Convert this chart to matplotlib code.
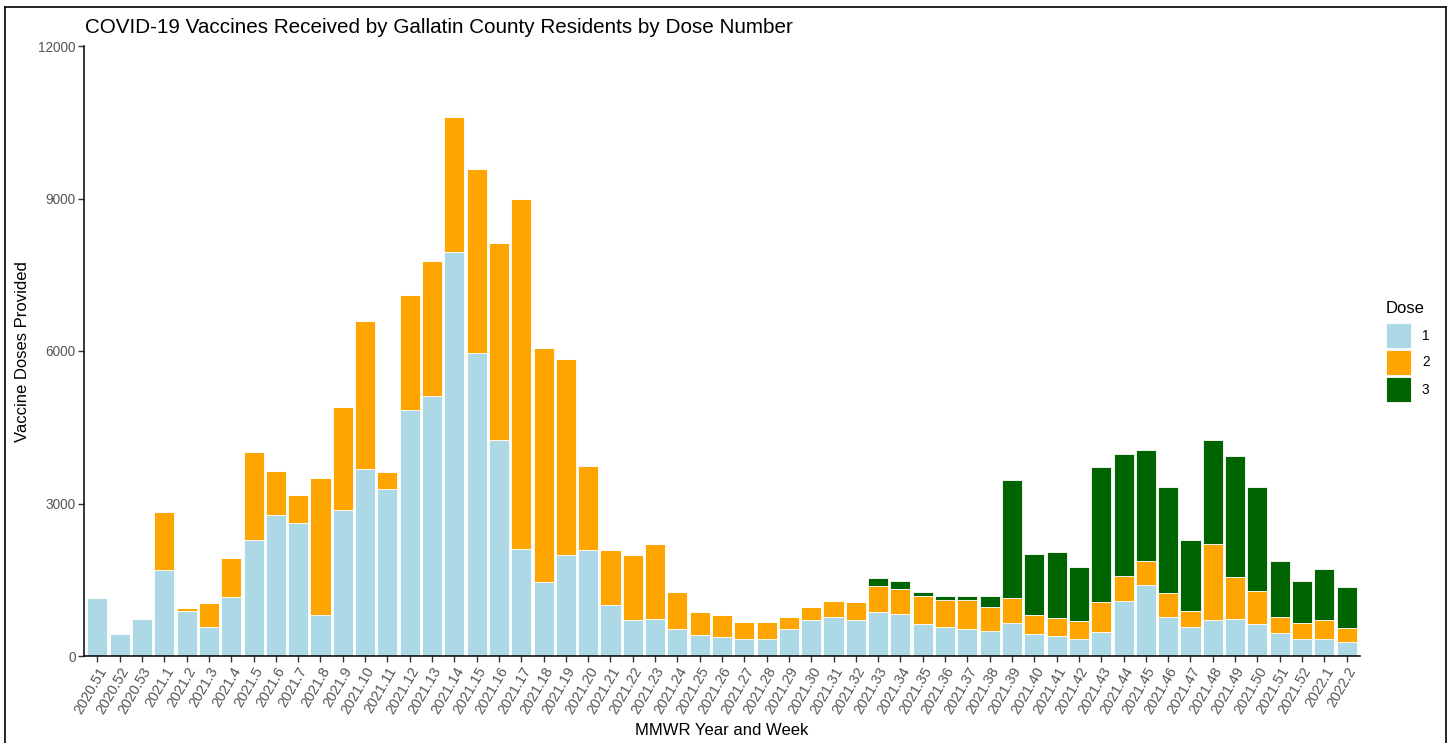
import numpy as np
import matplotlib.pyplot as plt
from matplotlib.patches import Rectangle
from matplotlib.lines import Line2D

plt.rcParams['font.family'] = ['Liberation Sans', 'DejaVu Sans']

# MMWR year.week labels
weeks = ['2020.51', '2020.52', '2020.53'] + \
        ['2021.%d' % i for i in range(1, 53)] + ['2022.1', '2022.2']

# doses per week
dose1 = [1140, 435, 730, 1690, 890, 570, 1165, 2285, 2765, 2625,
         805, 2875, 3675, 3285, 4840, 5115, 7940, 5955, 4245, 2105,
         1460, 1990, 2080, 1005, 710, 730, 525, 415, 370, 340,
         340, 525, 710, 775, 710, 870, 825, 620, 575, 525,
         500, 640, 435, 390, 325, 480, 1075, 1395, 775, 575,
         710, 730, 620, 455, 340, 340, 275]
dose2 = [0, 0, 0, 1150, 55, 480, 755, 1730, 880, 545,
         2705, 2030, 2915, 340, 2270, 2665, 2670, 3620, 3875, 6885,
         4605, 3850, 1665, 1075, 1275, 1480, 730, 455, 435, 325,
         325, 250, 250, 305, 345, 505, 500, 555, 525, 575,
         460, 500, 370, 365, 360, 575, 500, 475, 455, 315,
         1500, 825, 655, 320, 300, 370, 270]
dose3 = [0] * 35 + [165, 145, 85, 90, 90, 230, 2330, 1205, 1300, 1075,
                    2665, 2395, 2175, 2100, 1395, 2035, 2370, 2055, 1090,
                    845, 1000, 803]

colors = ['#ADD8E6', '#FFA500', '#006400']
dose_labels = ['1', '2', '3']

W, H = 1455, 743
fig = plt.figure(figsize=(W / 100, H / 100), dpi=100)
ax = fig.add_axes([84 / W, (H - 656) / H, (1360 - 84) / W, (656 - 46) / H])

x = np.arange(len(weeks))
d1 = np.array(dose1)
d2 = np.array(dose2)
d3 = np.array(dose3)
for vals, base, c in [(d1, 0, colors[0]), (d2, d1, colors[1]), (d3, d1 + d2, colors[2])]:
    ax.bar(x, vals, width=0.9, bottom=base, color=c, edgecolor='white', linewidth=0.6)

ax.set_xlim(-0.6, len(weeks) - 0.4)
ax.set_ylim(0, 12000)
ax.set_yticks([0, 3000, 6000, 9000, 12000])
ax.set_xticks(x)
ax.set_xticklabels(weeks, rotation=60, ha='right', va='top', rotation_mode='anchor',
                   fontsize=10.4)

for s in ['top', 'right']:
    ax.spines[s].set_visible(False)
for s in ['left', 'bottom']:
    ax.spines[s].set_color('black')
    ax.spines[s].set_linewidth(1.1)
ax.tick_params(axis='both', colors='#333333', length=4, width=1,
               labelcolor='#555555', pad=2)
ax.tick_params(axis='y', labelsize=9.8)

fig.text(85 / W, 1 - 33 / H, 'COVID-19 Vaccines Received by Gallatin County Residents by Dose Number',
         fontsize=14.85, ha='left', va='baseline', color='black')
fig.text(722 / W, 1 - 735 / H, 'MMWR Year and Week', fontsize=12, ha='center', va='baseline')
fig.text(23 / W, 1 - 352 / H, 'Vaccine Doses Provided', fontsize=12, rotation=90,
         ha='center', va='center')

# legend
fig.text(1386 / W, 1 - 313 / H, 'Dose', fontsize=12, ha='left', va='baseline')
for i, (c, lab) in enumerate(zip(colors, dose_labels)):
    top = 323 + i * 27
    fig.add_artist(Rectangle((1386 / W, 1 - (top + 25) / H), 25 / W, 25 / H,
                             transform=fig.transFigure, facecolor=c, edgecolor='white', linewidth=0.6))
    fig.text(1422 / W, 1 - (top + 12.5) / H, lab, fontsize=9.8, ha='left', va='center')

# outer frame
for xs, ys in [([5, 5], [7, 760]), ([5, 1446], [7, 7]), ([1446, 1446], [7, 760])]:
    fig.add_artist(Line2D([v / W for v in xs], [1 - v / H for v in ys], color='black',
                          linewidth=1.2, transform=fig.transFigure))

fig.savefig('out.png', dpi=100)
